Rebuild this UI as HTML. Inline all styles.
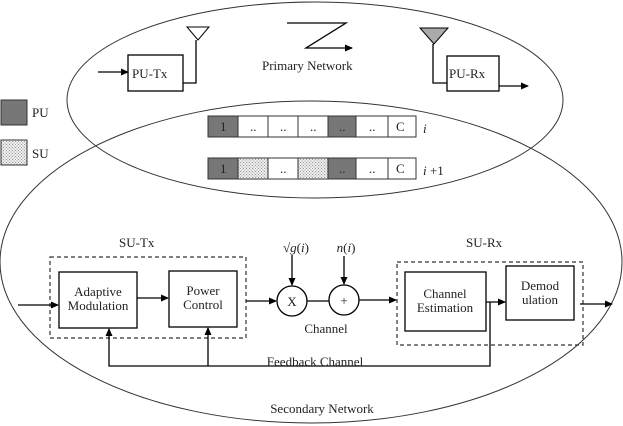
<!DOCTYPE html>
<html><head><style>body{margin:0;background:#fff}svg{display:block}text{font-family:"Liberation Serif",serif;font-size:13px;fill:#222}</style></head><body>
<svg width="623" height="426" viewBox="0 0 623 426">
<defs>
<marker id="a" markerWidth="8" markerHeight="8" refX="7" refY="4" orient="auto" markerUnits="userSpaceOnUse"><path d="M0,0.5 L8,4 L0,7.5Z" fill="#000"/></marker>
<pattern id="d" width="3" height="3" patternUnits="userSpaceOnUse"><rect width="3" height="3" fill="#eee"/><rect width="1" height="1" fill="#999"/><rect x="1.5" y="1.5" width="1" height="1" fill="#999"/></pattern>
</defs>
<g fill="none" stroke="#333" stroke-width="1">
<ellipse cx="315" cy="100" rx="248" ry="98"/>
<ellipse cx="311" cy="262" rx="311" ry="161"/>
</g>
<g stroke="#000" stroke-width="1.3" fill="none">
<rect x="128" y="55" width="55" height="36" fill="#fff"/>
<line x1="98" y1="72" x2="128" y2="72" marker-end="url(#a)"/>
<polyline points="183,83 196,83 196,40"/>
<polygon points="187,27 209,27 198,40" fill="#fff" stroke-width="1"/>
<polyline points="287,23 346,23 306,48 352,48" marker-end="url(#a)"/>
<rect x="447" y="56" width="52" height="35" fill="#fff"/>
<polyline points="433,44 433,83 447,83"/>
<polygon points="420,28 448,28 434,44" fill="#aaa" stroke-width="1"/>
<line x1="499" y1="86" x2="528" y2="86" marker-end="url(#a)"/>
</g>
<text x="262" y="70">Primary Network</text>
<text x="132" y="78">PU-Tx</text>
<text x="449" y="78">PU-Rx</text>
<rect x="1" y="100" width="26" height="25" fill="#777" stroke="#333"/>
<text x="32" y="117">PU</text>
<rect x="1" y="140" width="26" height="25" fill="url(#d)" stroke="#333"/>
<text x="32" y="158">SU</text>
<g stroke="#333" stroke-width="1">
<rect x="208" y="116" width="30" height="21" fill="#777"/>
<rect x="238" y="116" width="30" height="21" fill="#fff"/>
<rect x="268" y="116" width="30" height="21" fill="#fff"/>
<rect x="298" y="116" width="30" height="21" fill="#fff"/>
<rect x="328" y="116" width="28" height="21" fill="#777"/>
<rect x="356" y="116" width="32" height="21" fill="#fff"/>
<rect x="388" y="116" width="28" height="21" fill="#fff"/>
<rect x="208" y="158" width="30" height="21" fill="#777"/>
<rect x="238" y="158" width="30" height="21" fill="url(#d)"/>
<rect x="268" y="158" width="30" height="21" fill="#fff"/>
<rect x="298" y="158" width="30" height="21" fill="url(#d)"/>
<rect x="328" y="158" width="28" height="21" fill="#777"/>
<rect x="356" y="158" width="32" height="21" fill="#fff"/>
<rect x="388" y="158" width="28" height="21" fill="#fff"/>
</g>
<g font-size="12">
<text x="220" y="131">1</text><text x="250" y="131" font-size="7">..</text><text x="280" y="131" font-size="7">..</text><text x="310" y="131" font-size="7">..</text><text x="339" y="131" font-size="7">..</text><text x="369" y="131" font-size="7">..</text><text x="396" y="131">C</text>
<text x="220" y="173">1</text><text x="280" y="173" font-size="7">..</text><text x="339" y="173" font-size="7">..</text><text x="369" y="173" font-size="7">..</text><text x="396" y="173">C</text>
</g>
<text x="423" y="133" font-size="16" font-style="italic">i</text>
<text x="423" y="175" font-size="16"><tspan font-style="italic">i</tspan> +1</text>
<text x="119" y="247">SU-Tx</text>
<text x="466" y="247">SU-Rx</text>
<g stroke="#333" stroke-dasharray="4,3" fill="none" stroke-width="1.2">
<rect x="50" y="257" width="196" height="81"/>
<rect x="397" y="262" width="186" height="83"/>
</g>
<g stroke="#000" stroke-width="1.3" fill="#fff">
<rect x="59" y="272" width="78" height="56"/>
<rect x="169" y="271" width="68" height="56"/>
<rect x="405" y="272" width="81" height="59"/>
<rect x="506" y="266" width="68" height="54"/>
<circle cx="292" cy="301" r="15"/>
<circle cx="344" cy="300" r="15"/>
</g>
<g stroke="#000" stroke-width="1.3" fill="none">
<line x1="18" y1="305" x2="58" y2="305" marker-end="url(#a)"/>
<line x1="137" y1="298" x2="168" y2="298" marker-end="url(#a)"/>
<line x1="246" y1="301" x2="276" y2="301" marker-end="url(#a)"/>
<line x1="307" y1="301" x2="329" y2="301"/>
<line x1="359" y1="300" x2="396" y2="300" marker-end="url(#a)"/>
<line x1="292" y1="255" x2="292" y2="285" marker-end="url(#a)"/>
<line x1="344" y1="256" x2="344" y2="284" marker-end="url(#a)"/>
<line x1="486" y1="302" x2="505" y2="302" marker-end="url(#a)"/>
<line x1="580" y1="304" x2="612" y2="304" marker-end="url(#a)"/>
<polyline points="490,302 490,366 109,366 109,329" marker-end="url(#a)"/>
<line x1="208" y1="366" x2="208" y2="328" marker-end="url(#a)"/>
</g>
<g font-size="11.5" text-anchor="middle">
<text x="98" y="296">Adaptive</text><text x="98" y="310">Modulation</text>
<text x="203" y="295">Power</text><text x="203" y="309">Control</text>
<text x="445" y="298">Channel</text><text x="445" y="312">Estimation</text>
<text x="540" y="290">Demod</text><text x="540" y="304">ulation</text>
<text x="292" y="306" font-size="13">X</text>
<text x="344" y="305" font-size="14">+</text>
<text x="326" y="333" font-size="13">Channel</text>
<text x="315" y="366" font-size="13">Feedback Channel</text>
<text x="322" y="413" font-size="13">Secondary Network</text>
<text x="296" y="252" font-size="16">√<tspan font-style="italic">g</tspan>(<tspan font-style="italic">i</tspan>)</text>
<text x="346" y="252" font-size="16"><tspan font-style="italic">n</tspan>(<tspan font-style="italic">i</tspan>)</text>
</g>
</svg>
</body></html>
